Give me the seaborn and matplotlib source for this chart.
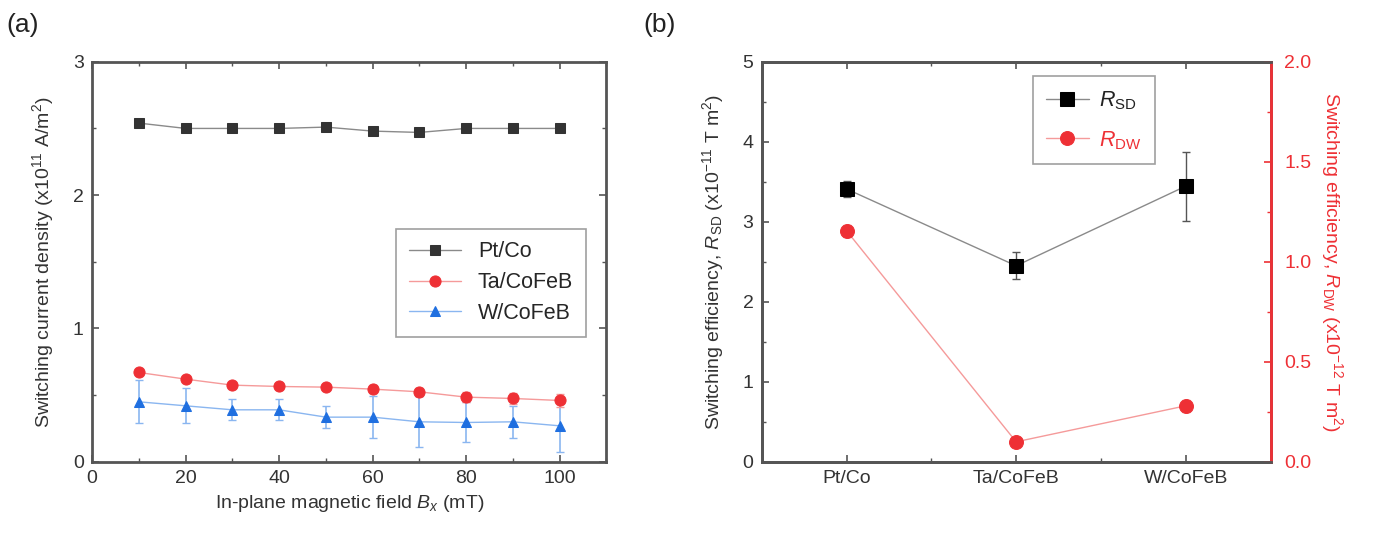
import matplotlib

matplotlib.use("Agg")
import matplotlib.pyplot as plt
import numpy as np
import seaborn as sns
from matplotlib.ticker import MultipleLocator

# ---- panel (a) data ----
field_mT = [10, 20, 30, 40, 50, 60, 70, 80, 90, 100]
j_ptco = [2.54, 2.50, 2.50, 2.50, 2.51, 2.48, 2.47, 2.50, 2.50, 2.50]
j_tacofeb = [0.67, 0.62, 0.575, 0.565, 0.56, 0.545, 0.525, 0.485, 0.475, 0.46]
j_tacofeb_err = [0.02, 0.02, 0.02, 0.02, 0.02, 0.03, 0.03, 0.04, 0.04, 0.05]
j_wcofeb = [0.45, 0.42, 0.39, 0.39, 0.335, 0.335, 0.30, 0.295, 0.30, 0.27]
j_wcofeb_err = [0.16, 0.13, 0.08, 0.08, 0.08, 0.16, 0.19, 0.15, 0.12, 0.20]

# ---- panel (b) data ----
samples = ["Pt/Co", "Ta/CoFeB", "W/CoFeB"]
r_sd = [3.41, 2.45, 3.445]
r_sd_err = [0.10, 0.17, 0.43]
r_dw = [1.155, 0.10, 0.28]
r_dw_err = [0.03, 0.02, 0.03]

sns.set_style("ticks")
plt.rcParams["font.family"] = ["Liberation Sans", "DejaVu Sans"]
plt.rcParams["mathtext.fontset"] = "custom"
plt.rcParams["mathtext.rm"] = "Liberation Sans"
plt.rcParams["mathtext.it"] = "Liberation Sans:italic"
plt.rcParams["mathtext.bf"] = "Liberation Sans:bold"

FS = 14
SPINE = "#555555"
GRAY_LINE = "#8a8a8a"
RED = "#ee3035"
RED_LINE = "#f59a9a"
BLUE = "#1f6fe0"
BLUE_LINE = "#8ab6f0"

fig = plt.figure(figsize=(13.75, 5.37), dpi=100)
ax1 = fig.add_axes([0.067, 0.140, 0.374, 0.745])
ax2 = fig.add_axes([0.554, 0.140, 0.370, 0.745])


def style_axes(ax, right=True):
    for s in ax.spines.values():
        s.set_color(SPINE)
        s.set_linewidth(2.0)
    ax.tick_params(which="both", direction="in", top=True, right=right,
                   color=SPINE, labelsize=FS, labelcolor="#333333", pad=6)
    ax.tick_params(which="major", length=5, width=1.2)
    ax.tick_params(which="minor", length=3, width=1.0)


# ---- (a) ----
x = np.array(field_mT)
ax1.errorbar(x, j_wcofeb, yerr=j_wcofeb_err, fmt="none", ecolor=BLUE_LINE,
             elinewidth=1.2, capsize=3, capthick=1.0, zorder=1)
ax1.errorbar(x, j_tacofeb, yerr=j_tacofeb_err, fmt="none", ecolor=RED_LINE,
             elinewidth=1.2, capsize=3, capthick=1.0, zorder=1)
sns.lineplot(x=x, y=j_ptco, ax=ax1, color=GRAY_LINE, lw=1.0, marker="s",
             markersize=7, markerfacecolor="#333333", markeredgecolor="#333333",
             label="Pt/Co", zorder=3)
sns.lineplot(x=x, y=j_tacofeb, ax=ax1, color=RED_LINE, lw=1.0, marker="o",
             markersize=8, markerfacecolor=RED, markeredgecolor=RED,
             label="Ta/CoFeB", zorder=3)
sns.lineplot(x=x, y=j_wcofeb, ax=ax1, color=BLUE_LINE, lw=1.0, marker="^",
             markersize=7.5, markerfacecolor=BLUE, markeredgecolor=BLUE,
             label="W/CoFeB", zorder=3)
ax1.set_xlim(0, 110)
ax1.set_ylim(0, 3)
ax1.xaxis.set_major_locator(MultipleLocator(20))
ax1.xaxis.set_minor_locator(MultipleLocator(10))
ax1.yaxis.set_major_locator(MultipleLocator(1))
ax1.yaxis.set_minor_locator(MultipleLocator(0.5))
style_axes(ax1)
ax1.set_xlabel("In-plane magnetic field $B_x$ (mT)", fontsize=FS,
               color="#333333", labelpad=4)
ax1.set_ylabel("Switching current density (x10$^{11}$ A/m$^2$)", fontsize=FS,
               color="#333333", labelpad=12)
leg = ax1.legend(loc="upper left", bbox_to_anchor=(0.57, 0.61), fontsize=15.5,
                 frameon=True, fancybox=False, handlelength=2.4,
                 borderpad=0.6, labelspacing=0.45)
leg.get_frame().set_edgecolor("#888888")
leg.get_frame().set_linewidth(1.2)
fig.text(0.005, 0.94, "(a)", fontsize=19, color="#222222")

# ---- (b) ----
pos = np.arange(len(samples))
ax3 = ax2.twinx()
ax2.errorbar(pos, r_sd, yerr=r_sd_err, fmt="none", ecolor="#555555",
             elinewidth=1.0, capsize=3, capthick=1.0, zorder=1)
ax3.errorbar(pos, r_dw, yerr=r_dw_err, fmt="none", ecolor=RED_LINE,
             elinewidth=1.0, capsize=3, capthick=1.0, zorder=1)
sns.lineplot(x=pos, y=r_sd, ax=ax2, color=GRAY_LINE, lw=1.0, marker="s",
             markersize=10, markerfacecolor="black", markeredgecolor="black",
             label="$R_{\\mathrm{SD}}$", legend=False, zorder=3)
sns.lineplot(x=pos, y=r_dw, ax=ax3, color=RED_LINE, lw=1.0, marker="o",
             markersize=10, markerfacecolor=RED, markeredgecolor=RED,
             label="$R_{\\mathrm{DW}}$", legend=False, zorder=3)
ax2.set_xlim(-0.5, 2.5)
ax2.set_ylim(0, 5)
ax3.set_ylim(0, 2)
ax2.set_xticks(pos)
ax2.set_xticklabels(samples)
ax2.xaxis.set_minor_locator(MultipleLocator(0.5))
ax2.yaxis.set_major_locator(MultipleLocator(1))
ax2.yaxis.set_minor_locator(MultipleLocator(0.5))
ax3.yaxis.set_major_locator(MultipleLocator(0.5))
ax3.yaxis.set_minor_locator(MultipleLocator(0.25))
style_axes(ax2, right=False)
for s in ax3.spines.values():
    s.set_linewidth(2.0)
    s.set_color(SPINE)
ax3.spines["right"].set_color(RED)
ax3.tick_params(which="both", direction="in", color=RED, labelcolor=RED,
                labelsize=FS, pad=10)
ax3.tick_params(which="major", length=5, width=1.2)
ax3.tick_params(which="minor", length=3, width=1.0)
ax2.set_xlabel("")
ax2.set_ylabel("Switching efficiency, $R_{\\mathrm{SD}}$ (x10$^{-11}$ T m$^2$)",
               fontsize=FS, color="#333333", labelpad=12)
ax3.set_ylabel("Switching efficiency, $R_{\\mathrm{DW}}$ (x10$^{-12}$ T m$^2$)",
               fontsize=FS, color=RED, rotation=270, labelpad=24)

h1, l1 = ax2.get_legend_handles_labels()
h2, l2 = ax3.get_legend_handles_labels()
leg2 = ax3.legend(h1 + h2, l1 + l2, loc="upper left",
                  bbox_to_anchor=(0.52, 0.98), fontsize=15.5, frameon=True,
                  fancybox=False, handlelength=2.0, handletextpad=0.5,
                  borderpad=0.6, borderaxespad=0.3, labelspacing=0.8)
leg2.get_frame().set_edgecolor("#888888")
leg2.get_frame().set_linewidth(1.2)
leg2.get_texts()[0].set_color("#222222")
leg2.get_texts()[1].set_color(RED)
fig.text(0.468, 0.94, "(b)", fontsize=19, color="#222222")

fig.savefig("out.png", dpi=100)
plt.close(fig)
